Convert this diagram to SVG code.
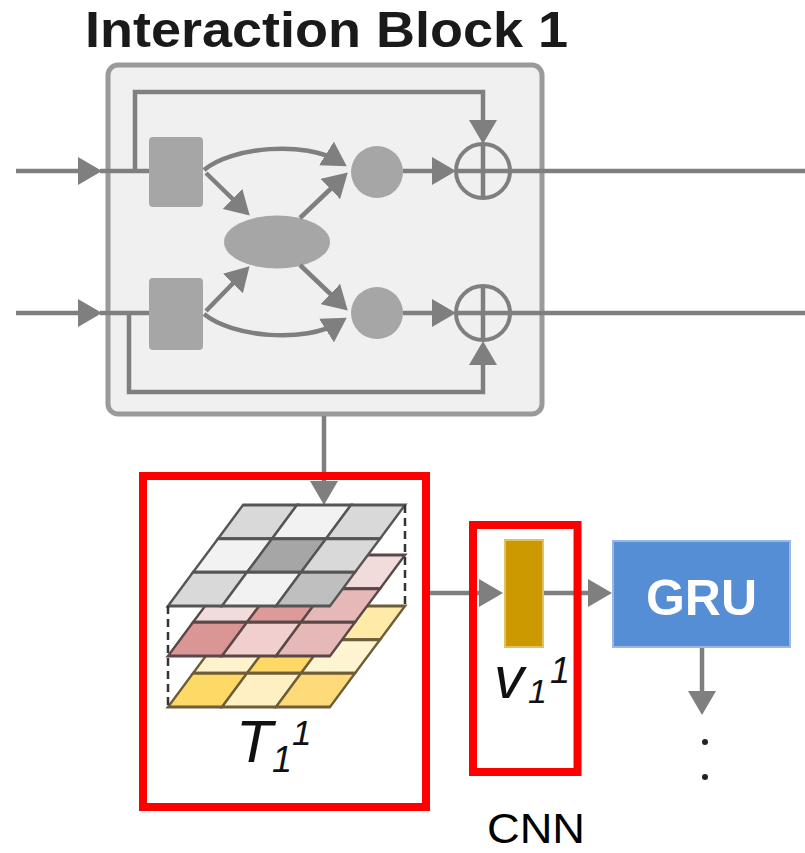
<svg xmlns="http://www.w3.org/2000/svg" width="805" height="853" viewBox="0 0 805 853">
<style>
.title{font-family:"Liberation Sans",Arial,sans-serif;font-weight:bold;font-size:50px;fill:#1a1a1a}
.blk{fill:#f0f0f0;stroke:#9a9a9a;stroke-width:5}
.shape{fill:#a6a6a6}
.plus{fill:none;stroke:#7f7f7f;stroke-width:4}
.con{fill:none;stroke:#7f7f7f;stroke-width:4.5}
.arrow{marker-end:url(#ah)}
.red{fill:none;stroke:#ff0000;stroke-width:8}
.gl rect{stroke:#555555;stroke-width:3}
.pl rect{stroke:#5a4848;stroke-width:3}
.yl rect{stroke:#6e5e38;stroke-width:3}
.dash{stroke:#333333;stroke-width:2.5;stroke-dasharray:8 5;fill:none}
.math{font-family:"Liberation Sans",Arial,sans-serif;font-style:italic;fill:#111}
.gru{font-family:"Liberation Sans",Arial,sans-serif;font-weight:bold;font-size:50px;fill:#ffffff}
.cnn{font-family:"Liberation Sans",Arial,sans-serif;font-size:42px;fill:#000}
</style>
<defs>
<marker id="ah" markerUnits="userSpaceOnUse" markerWidth="24" markerHeight="28" viewBox="0 0 24 28" refX="16" refY="14" orient="auto">
<path d="M0,0 L24,14 L0,28 z" fill="#7f7f7f"/>
</marker>
</defs>

<text class="title" x="85" y="47" textLength="483" lengthAdjust="spacingAndGlyphs">Interaction Block 1</text>

<g id="interaction-block">
<rect class="blk" x="108" y="65" width="434" height="349" rx="10"/>
<rect id="gate-top" class="shape" x="149" y="137" width="54" height="70" rx="4"/>
<rect id="gate-bottom" class="shape" x="149" y="278" width="54" height="72" rx="4"/>
<ellipse id="interaction" class="shape" cx="277" cy="242" rx="53" ry="26.5"/>
<circle id="node-top" class="shape" cx="377" cy="172" r="26"/>
<circle id="node-bottom" class="shape" cx="377" cy="313" r="26"/>
<circle id="add-top" class="plus" cx="483" cy="171" r="27"/>
<circle id="add-bottom" class="plus" cx="483" cy="313" r="27"/>
</g>

<g id="connectors">
<path class="con arrow" d="M16,171 H94"/>
<path class="con" d="M100,171 H149"/>
<path class="con arrow" d="M16,313 H94"/>
<path class="con" d="M100,313 H149"/>
<path class="con arrow" d="M135,171 V92 H483 V136"/>
<path class="con arrow" d="M129,313 V392 H483 V349"/>
<path class="con arrow" d="M204,170 C232,147 305,140 340,162"/>
<path class="con arrow" d="M206,173 L244,210"/>
<path class="con arrow" d="M300,218 L342,178"/>
<path class="con arrow" d="M206,311 L244,272"/>
<path class="con arrow" d="M300,265 L342,305"/>
<path class="con arrow" d="M204,314 C232,337 305,344 340,322"/>
<path class="con arrow" d="M403,171 H448"/>
<path class="con arrow" d="M403,313 H448"/>
<path class="con" d="M456,171 H805"/>
<path class="con" d="M456,313 H805"/>
<path class="con" d="M483,144 V198"/>
<path class="con" d="M483,286 V340"/>
<path class="con arrow" d="M324,416 V497"/>
<path class="con arrow" d="M430,593 H495"/>
<path class="con arrow" d="M543,593 H604"/>
<path class="con arrow" d="M702,647 V707"/>
</g>

<g id="tensor-T">
<g class="yl" transform="matrix(1 0 -0.7426 1 243 606)">
<rect x="0" y="0" width="54" height="33.67" fill="#ffe699"/>
<rect x="54" y="0" width="54" height="33.67" fill="#fff2cc"/>
<rect x="108" y="0" width="54" height="33.67" fill="#ffeaa8"/>
<rect x="0" y="33.67" width="54" height="33.67" fill="#fff2cc"/>
<rect x="54" y="33.67" width="54" height="33.67" fill="#ffd966"/>
<rect x="108" y="33.67" width="54" height="33.67" fill="#fff4d2"/>
<rect x="0" y="67.33" width="54" height="33.67" fill="#ffd966"/>
<rect x="54" y="67.33" width="54" height="33.67" fill="#fff0c4"/>
<rect x="108" y="67.33" width="54" height="33.67" fill="#fedb78"/>
</g>
<g class="pl" transform="matrix(1 0 -0.7426 1 243 555)">
<rect x="0" y="0" width="54" height="33.67" fill="#e6b9b8"/>
<rect x="54" y="0" width="54" height="33.67" fill="#f2dcdb"/>
<rect x="108" y="0" width="54" height="33.67" fill="#f2dcdb"/>
<rect x="0" y="33.67" width="54" height="33.67" fill="#f2dcdb"/>
<rect x="54" y="33.67" width="54" height="33.67" fill="#dc9a98"/>
<rect x="108" y="33.67" width="54" height="33.67" fill="#e6b9b8"/>
<rect x="0" y="67.33" width="54" height="33.67" fill="#da9694"/>
<rect x="54" y="67.33" width="54" height="33.67" fill="#f0cfce"/>
<rect x="108" y="67.33" width="54" height="33.67" fill="#e6b9b8"/>
</g>
<g class="gl" transform="matrix(1 0 -0.7426 1 243 505)">
<rect x="0" y="0" width="54" height="33.67" fill="#d9d9d9"/>
<rect x="54" y="0" width="54" height="33.67" fill="#f2f2f2"/>
<rect x="108" y="0" width="54" height="33.67" fill="#d9d9d9"/>
<rect x="0" y="33.67" width="54" height="33.67" fill="#f2f2f2"/>
<rect x="54" y="33.67" width="54" height="33.67" fill="#a6a6a6"/>
<rect x="108" y="33.67" width="54" height="33.67" fill="#d9d9d9"/>
<rect x="0" y="67.33" width="54" height="33.67" fill="#d9d9d9"/>
<rect x="54" y="67.33" width="54" height="33.67" fill="#f2f2f2"/>
<rect x="108" y="67.33" width="54" height="33.67" fill="#bfbfbf"/>
</g>
<path class="dash" d="M168,606 V707"/>
<path class="dash" d="M405,505 V606"/>
<text class="math" x="236" y="762" font-size="60">T</text>
<text class="math" x="272" y="772" font-size="36">1</text>
<text class="math" x="292" y="745" font-size="35">1</text>
<rect class="red" x="143" y="476" width="283" height="331"/>
</g>

<g id="v-vector">
<rect x="505" y="540" width="38" height="107" fill="#cc9900" stroke="#e2c160" stroke-width="2"/>
<text class="math" x="494" y="698" font-size="60">v</text>
<text class="math" x="528" y="703" font-size="34">1</text>
<text class="math" x="550" y="683" font-size="36">1</text>
</g>

<g id="cnn">
<rect class="red" x="473" y="525" width="104.5" height="247"/>
<text class="cnn" x="536" y="843" text-anchor="middle" textLength="98" lengthAdjust="spacingAndGlyphs">CNN</text>
</g>

<g id="gru">
<rect x="613" y="541" width="177" height="106" fill="#558ed5" stroke="#9bb8e4" stroke-width="2"/>
<text class="gru" x="701.5" y="615" text-anchor="middle">GRU</text>
</g>

<g id="ellipsis">
<circle cx="705" cy="742" r="3" fill="#222"/>
<circle cx="705" cy="777" r="3" fill="#222"/>
</g>
</svg>
